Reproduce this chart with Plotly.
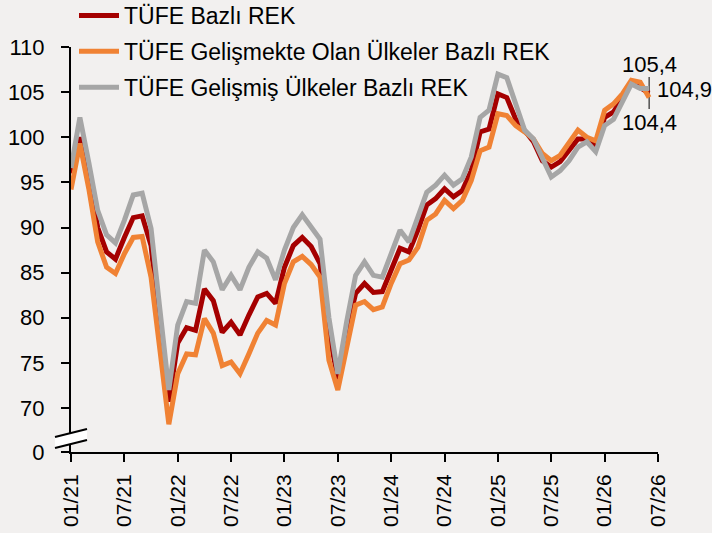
import plotly.graph_objects as go

# ---- data (monthly, 01/21 .. 06/26) ----
months = [f"{m:02d}/{y:02d}" for y in range(21, 27) for m in range(1, 13)][:66]

tufe_rek = [96.0, 100.0, 95.8, 90.0, 87.3, 86.5, 88.9, 91.1, 91.3, 88.0, 79.0, 70.7,
            77.2, 78.9, 78.6, 83.2, 81.9, 78.4, 79.5, 78.1, 80.3, 82.3, 82.7, 81.6,
            85.6, 88.0, 88.9, 87.9, 86.0, 78.5, 73.2, 78.4, 82.7, 83.8, 82.8, 82.9,
            85.3, 87.7, 87.3, 89.7, 92.5, 93.2, 94.3, 93.4, 94.1, 96.3, 100.6, 100.9,
            104.8, 104.4, 102.0, 100.8, 99.5, 97.4, 96.7, 97.3, 98.5, 99.8, 99.8, 98.9,
            102.2, 102.8, 104.3, 106.1, 105.5, 104.9]

tufe_gelismekte = [94.2, 99.3, 94.3, 88.4, 85.6, 84.9, 87.1, 88.9, 89.0, 84.5, 76.4, 68.2,
                   73.8, 76.0, 75.9, 79.9, 78.3, 74.7, 75.1, 73.8, 76.0, 78.3, 79.7, 79.2,
                   83.8, 86.2, 86.8, 85.9, 84.5, 75.3, 72.0, 77.0, 81.4, 81.8, 80.9, 81.2,
                   83.8, 86.0, 86.4, 87.8, 90.8, 91.5, 93.0, 92.1, 93.0, 95.2, 98.5, 98.9,
                   102.6, 102.4, 101.3, 100.6, 99.8, 98.2, 97.4, 98.0, 99.5, 100.8, 100.0, 99.6,
                   103.0, 103.7, 104.8, 106.3, 106.1, 104.4]

tufe_gelismis = [96.6, 102.2, 97.2, 91.9, 89.2, 88.3, 90.8, 93.6, 93.8, 89.9, 80.9, 72.0,
                 79.2, 81.8, 81.6, 87.5, 86.2, 83.1, 84.7, 83.1, 85.6, 87.3, 86.6, 84.2,
                 87.5, 90.0, 91.4, 90.1, 88.7, 80.0, 73.8, 79.6, 84.7, 86.2, 84.7, 84.5,
                 87.1, 89.7, 88.4, 91.0, 93.9, 94.7, 95.8, 94.7, 95.4, 97.8, 102.2, 103.0,
                 107.0, 106.6, 103.7, 100.8, 99.8, 97.8, 95.6, 96.3, 97.4, 98.9, 99.5, 98.4,
                 101.3, 102.0, 104.1, 105.9, 105.4, 105.4]

series_names = ["TÜFE Bazlı REK",
                "TÜFE Gelişmekte Olan Ülkeler Bazlı REK",
                "TÜFE Gelişmiş Ülkeler Bazlı REK"]

x_tick_labels = ["01/21", "07/21", "01/22", "07/22", "01/23", "07/23",
                 "01/24", "07/24", "01/25", "07/25", "01/26", "07/26"]
y_tick_labels = ["0", "70", "75", "80", "85", "90", "95", "100", "105", "110"]
y_tick_values = [70, 75, 80, 85, 90, 95, 100, 105, 110]

# ---- style ----
FONT = "Liberation Sans, Arial, sans-serif"
BG = "#f2f0ef"
colors = ["#a50000", "#f08234", "#a6a6a6"]
Y_BOTTOM = 65.13   # position of the broken "0" tick

x = list(range(len(months)))

fig = go.Figure()
for k, (name, vals, col) in enumerate(zip(series_names,
                                          [tufe_rek, tufe_gelismekte, tufe_gelismis], colors)):
    fig.add_trace(go.Scatter(x=x, y=vals, mode="lines", name=name, legendgroup=f"g{k}",
                             line=dict(color=col, width=5)))

W, H = 712, 533
L, R, T, B = 71, 54, 47, 81
pw, ph = W - L - R, H - T - B


def px(xp):
    return (xp - L) / pw


def py(yp):
    return (T + ph - yp) / ph


# axis break marker
fig.add_shape(type="path", xref="paper", yref="paper",
              path=f"M{px(55)},{py(437)} L{px(87)},{py(429)} L{px(87)},{py(440)} L{px(55)},{py(448)} Z",
              fillcolor="white", line=dict(width=0), layer="above")
fig.add_shape(type="line", xref="paper", yref="paper", x0=px(55), y0=py(437), x1=px(87), y1=py(429),
              line=dict(color="black", width=2), layer="above")
fig.add_shape(type="line", xref="paper", yref="paper", x0=px(55), y0=py(448), x1=px(87), y1=py(440),
              line=dict(color="black", width=2), layer="above")

# end labels
last = len(x) - 1
fig.add_shape(type="line", xref="x", yref="paper", x0=last, x1=last, y0=py(77), y1=py(109),
              line=dict(color="black", width=1), layer="below")


def fmt(v):
    return f"{v:.1f}".replace(".", ",")


ann_font = dict(family=FONT, size=22, color="black")
fig.add_annotation(x=last, y=tufe_gelismis[-1], text=fmt(tufe_gelismis[-1]), showarrow=False,
                   xanchor="center", yanchor="middle", yshift=24, font=ann_font)
fig.add_annotation(x=last, y=tufe_rek[-1], text=fmt(tufe_rek[-1]), showarrow=False,
                   xanchor="left", yanchor="middle", xshift=6, yshift=4, font=ann_font)
fig.add_annotation(x=last, y=tufe_gelismekte[-1], text=fmt(tufe_gelismekte[-1]), showarrow=False,
                   xanchor="center", yanchor="middle", yshift=-25, font=ann_font)

fig.update_layout(
    width=W, height=H,
    margin=dict(l=L, r=R, t=T, b=B, pad=0, autoexpand=False),
    paper_bgcolor=BG, plot_bgcolor=BG,
    font=dict(family=FONT, size=22, color="black"),
    showlegend=True,
    legend=dict(x=px(74), y=py(-6), xanchor="left", yanchor="top",
                bgcolor="rgba(0,0,0,0)", font=dict(family=FONT, size=23, color="black"),
                itemwidth=40, traceorder="grouped", tracegroupgap=3),
    xaxis=dict(range=[0, 66], tickmode="array", tickvals=list(range(0, 67, 6)),
               ticktext=x_tick_labels, tickangle=-90, showline=True, linecolor="black",
               linewidth=2, ticks="outside", ticklen=8, tickwidth=2, tickcolor="black",
               showgrid=False, zeroline=False, tickfont=dict(size=21, family=FONT),
               ticklabelstandoff=4, automargin=False),
    yaxis=dict(range=[Y_BOTTOM, 110], tickmode="array", tickvals=[Y_BOTTOM] + y_tick_values,
               ticktext=y_tick_labels, showline=True, linecolor="black", linewidth=2,
               ticks="outside", ticklen=8, tickwidth=2, tickcolor="black",
               showgrid=False, zeroline=False, tickfont=dict(size=22, family=FONT),
               ticklabelstandoff=12, automargin=False),
)

fig.write_html("out.html", config={"displayModeBar": False},
               post_script=f"document.body.style.margin='0';document.body.style.background='{BG}';")
